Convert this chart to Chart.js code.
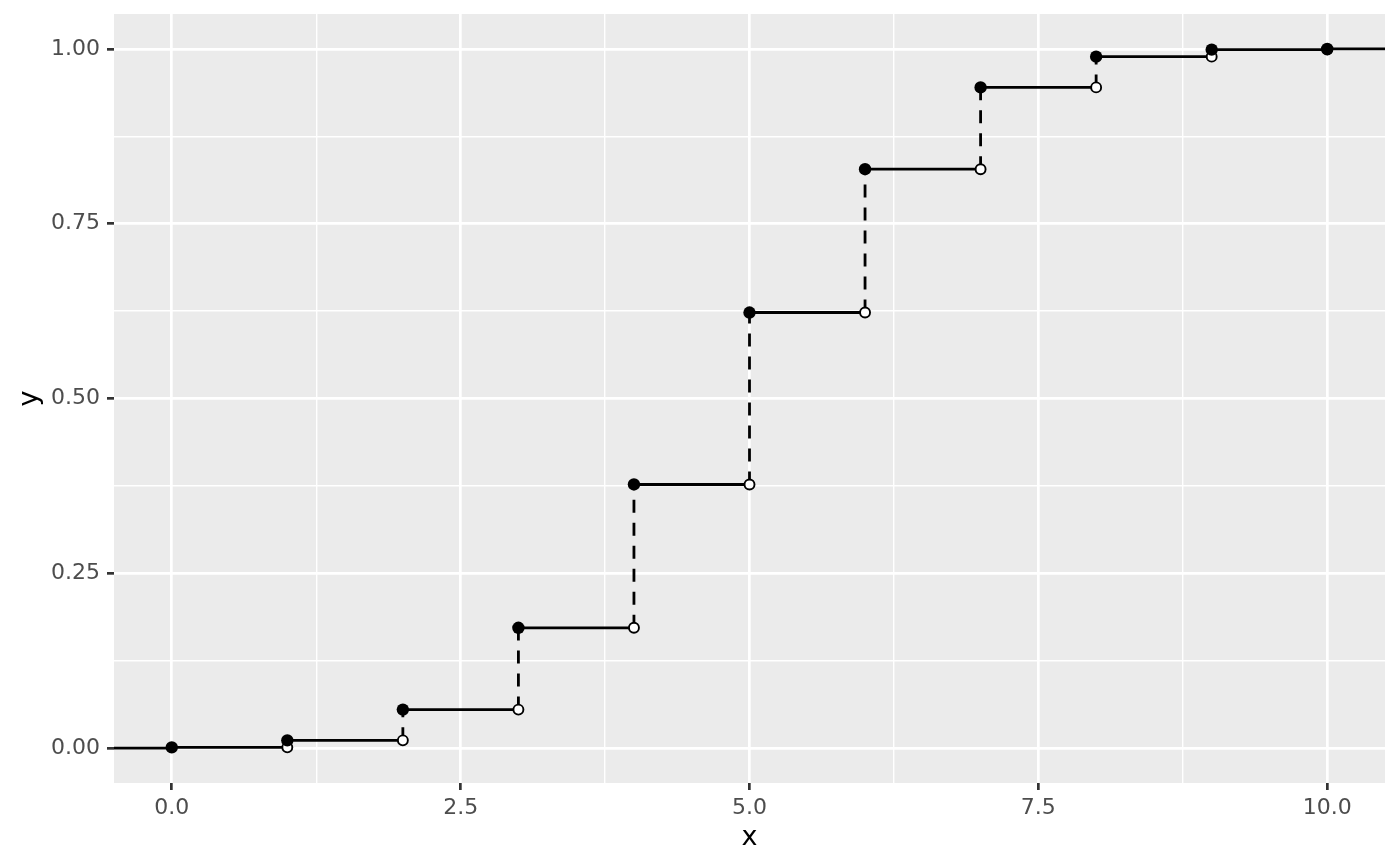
<!DOCTYPE html>
<html>
<head>
<meta charset="utf-8">
<script src="https://cdn.jsdelivr.net/npm/chart.js@4.4.1/dist/chart.umd.min.js"></script>
<style>
html,body{margin:0;padding:0;background:#fff;}
#c{display:block;}
</style>
</head>
<body>
<canvas id="c" width="1400" height="866"></canvas>
<script>
// Data: binomial CDF values
const xValues = [0, 1, 2, 3, 4, 5, 6, 7, 8, 9, 10];
const cdfValues = [0.001, 0.011, 0.055, 0.172, 0.377, 0.623, 0.828, 0.945, 0.989, 0.999, 1.0];
const xRange = [-0.5, 10.5];
const yRange = [-0.05, 1.05];
const xMajorTicks = [0, 2.5, 5, 7.5, 10];
const xMinorTicks = [1.25, 3.75, 6.25, 8.75];
const yMajorTicks = [0, 0.25, 0.5, 0.75, 1];
const yMinorTicks = [0.125, 0.375, 0.625, 0.875];

// step line: horizontal solid, vertical dashed
const stepPts = [{x: xRange[0], y: 0}];
let prev = 0;
xValues.forEach((x, i) => {
  stepPts.push({x: x, y: prev});
  stepPts.push({x: x, y: cdfValues[i]});
  const nx = i < xValues.length - 1 ? xValues[i + 1] : xRange[1];
  stepPts.push({x: nx, y: cdfValues[i]});
  prev = cdfValues[i];
});
const filledPts = xValues.map((x, i) => ({x: x, y: cdfValues[i]}));
const openPts = xValues.slice(1).map((x, i) => ({x: x, y: cdfValues[i]}));

const isMajor = (v, list) => list.some(t => Math.abs(t - v) < 1e-9);

const panelBg = {
  id: 'panelBg',
  beforeDraw(chart) {
    const {ctx, chartArea: a} = chart;
    ctx.save();
    ctx.fillStyle = '#EBEBEB';
    ctx.fillRect(a.left, a.top, a.right - a.left, a.bottom - a.top);
    ctx.restore();
  }
};

function gridOpts(majors) {
  return {
    color: c => '#FFFFFF',
    lineWidth: c => (c.tick && isMajor(c.tick.value, majors)) ? 2.7 : 1.4,
    tickColor: c => (c.tick && isMajor(c.tick.value, majors)) ? '#333333' : 'rgba(0,0,0,0)',
    tickWidth: c => 2.7,
    tickLength: 7,
    drawTicks: true,
    drawOnChartArea: true
  };
}

new Chart(document.getElementById('c'), {
  type: 'scatter',
  data: {
    datasets: [
      {
        label: 'filled',
        data: filledPts,
        showLine: false,
        pointRadius: 6.2,
        pointBackgroundColor: '#000',
        pointBorderColor: '#000',
        pointBorderWidth: 0,
        order: 0
      },
      {
        label: 'open',
        data: openPts,
        showLine: false,
        pointRadius: 5,
        pointBackgroundColor: '#fff',
        pointBorderColor: '#000',
        pointBorderWidth: 1.9,
        order: 1
      },
      {
        label: 'step',
        data: stepPts,
        showLine: true,
        pointRadius: 0,
        borderColor: '#000',
        borderWidth: 2.8,
        tension: 0,
        segment: {
          borderDash: ctx => (ctx.p0.parsed.x === ctx.p1.parsed.x) ? [13, 10] : []
        },
        order: 2
      }
    ]
  },
  options: {
    responsive: false,
    animation: false,
    devicePixelRatio: 1,
    layout: {padding: {left: 0, right: 15, top: 14, bottom: 0}},
    plugins: {legend: {display: false}, tooltip: {enabled: false}},
    scales: {
      x: {
        type: 'linear',
        min: xRange[0], max: xRange[1],
        afterBuildTicks: s => { s.ticks = xMajorTicks.concat(xMinorTicks).sort((a, b) => a - b).map(v => ({value: v})); },
        afterFit: s => { s.height = 83; s.paddingLeft = 0; s.paddingRight = 0; },
        grid: gridOpts(xMajorTicks),
        border: {display: false},
        ticks: {
          autoSkip: false, maxRotation: 0, minRotation: 0,
          padding: 5,
          color: '#4D4D4D',
          font: {family: 'DejaVu Sans', size: 22},
          callback: v => isMajor(v, xMajorTicks) ? Number(v).toFixed(1) : ''
        },
        title: {
          display: true, text: 'x', color: '#000',
          font: {family: 'DejaVu Sans', size: 27},
          padding: {top: 0, bottom: 12}
        }
      },
      y: {
        type: 'linear',
        min: yRange[0], max: yRange[1],
        afterBuildTicks: s => { s.ticks = yMajorTicks.concat(yMinorTicks).sort((a, b) => a - b).map(v => ({value: v})); },
        afterFit: s => { s.width = 114; s.paddingTop = 0; s.paddingBottom = 0; },
        grid: gridOpts(yMajorTicks),
        border: {display: false},
        ticks: {
          autoSkip: false,
          padding: 7,
          color: '#4D4D4D',
          font: {family: 'DejaVu Sans', size: 22},
          callback: v => isMajor(v, yMajorTicks) ? Number(v).toFixed(2) : ''
        },
        title: {
          display: true, text: 'y', color: '#000',
          font: {family: 'DejaVu Sans', size: 27},
          padding: {top: 14, bottom: 0}
        }
      }
    }
  },
  plugins: [panelBg]
});
</script>
</body>
</html>
